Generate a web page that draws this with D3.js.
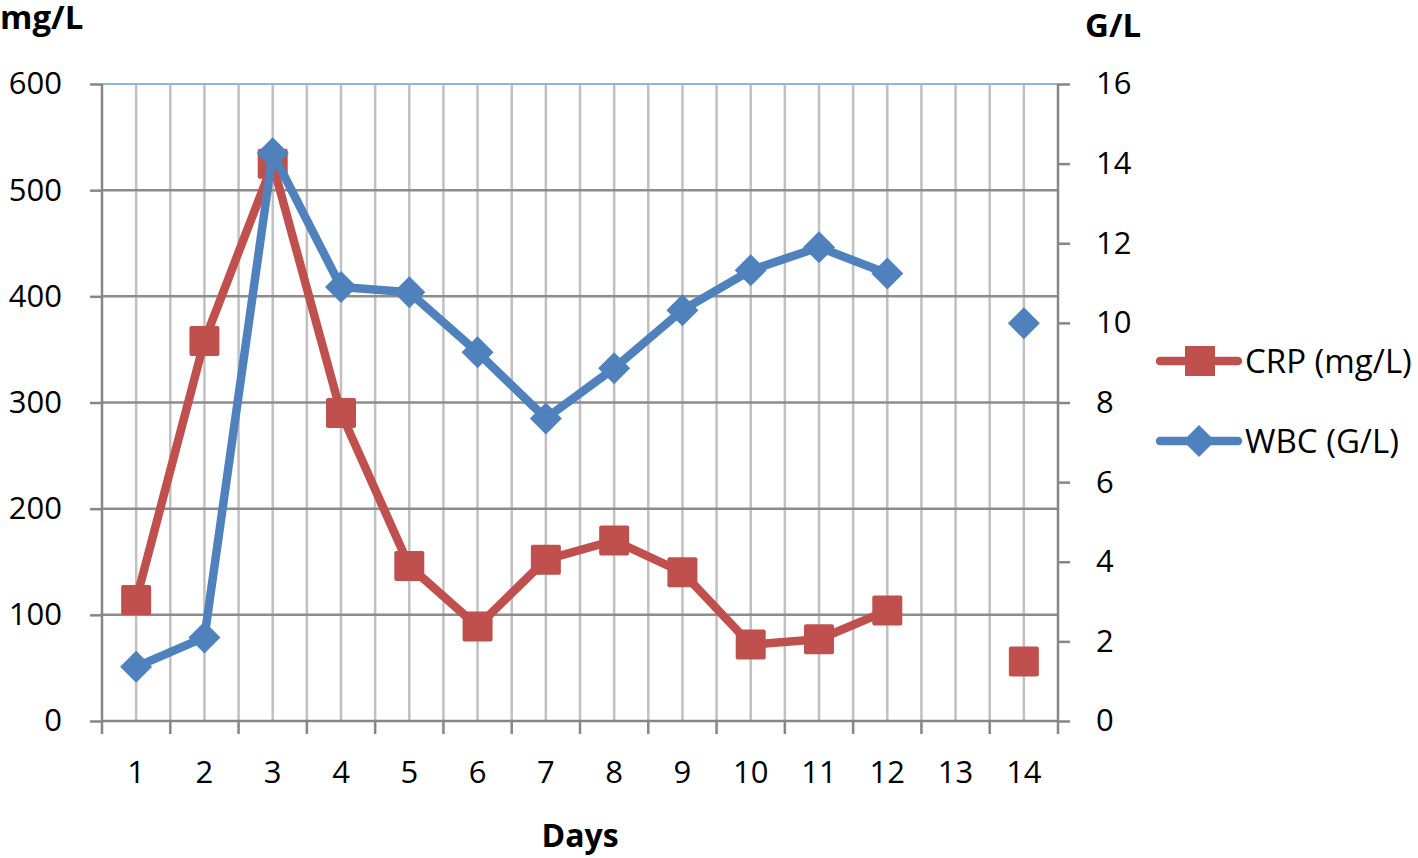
<!DOCTYPE html>
<html>
<head>
    <title>CRP and WBC</title>
    <script src="https://d3js.org/d3.v7.min.js"></script>
    <style>
        body { margin:0; background:#fff; }
        text { font-family: "Open Sans", sans-serif; fill:#000; }
        .title { font-weight:bold; }
    </style>
</head>
<body>
    <script>
    // chart data
    var days = ["1","2","3","4","5","6","7","8","9","10","11","12","13","14"];
    var crp = [114, 358, 525, 290, 146, 89, 152, 170, 140, 72, 77, 104, null, 56];
    var wbc = [1.36, 2.1, 14.26, 10.9, 10.77, 9.26, 7.6, 8.86, 10.32, 11.32, 11.9, 11.24, null, 9.99];
    var leftTicks = [0, 100, 200, 300, 400, 500, 600];
    var rightTicks = [0, 2, 4, 6, 8, 10, 12, 14, 16];

    var red = "#C0504D", blue = "#4F81BD";
    // plot edges (note: "top" is reserved on window)
    var pLeft = 102, pRight = 1058, pTop = 84, pBottom = 721;

    var svg = d3.select("body").append("svg")
                .attr("width", 1418).attr("height", 858);

    var x = d3.scaleBand().domain(days).range([pLeft, pRight]);
    var yL = d3.scaleLinear().domain([0, 600]).range([pBottom, pTop]);
    var yR = d3.scaleLinear().domain([0, 16]).range([pBottom, pTop]);
    var cx = function(i) { return x(days[i]) + x.bandwidth() / 2; };

    // vertical gridlines at band edges and centres
    var vlines = [];
    days.forEach(function(d, i) { vlines.push(x(d)); vlines.push(cx(i)); });
    vlines.push(pRight);
    svg.append("g").selectAll("line").data(vlines.slice(1, -1)).enter().append("line")
        .attr("x1", function(d) { return d; }).attr("x2", function(d) { return d; })
        .attr("y1", pTop).attr("y2", pBottom)
        .attr("stroke", "#c0c0c0").attr("stroke-width", 2.5);

    // horizontal gridlines
    svg.append("g").selectAll("line").data(leftTicks.slice(1)).enter().append("line")
        .attr("x1", pLeft).attr("x2", pRight)
        .attr("y1", function(d) { return yL(d); }).attr("y2", function(d) { return yL(d); })
        .attr("stroke", function(d) { return d == 600 ? "#8eb4e3" : "#8c8c8c"; })
        .attr("stroke-width", function(d) { return d == 600 ? 2 : 2.5; });

    // axes
    var axisColor = "#868686";
    var yAxisL = d3.axisLeft(yL).tickValues(leftTicks).tickSize(12).tickPadding(28);
    var gl = svg.append("g").attr("transform", "translate(" + pLeft + ",0)").call(yAxisL);
    var yAxisR = d3.axisRight(yR).tickValues(rightTicks).tickSize(12).tickPadding(26);
    var gr = svg.append("g").attr("transform", "translate(" + pRight + ",0)").call(yAxisR);
    var xAxis = d3.axisBottom(x).tickSize(0).tickPadding(40);
    var gx = svg.append("g").attr("transform", "translate(0," + pBottom + ")").call(xAxis);
    // category boundary ticks
    var edges = days.map(function(d) { return x(d); }).concat([pRight]);
    gx.selectAll(".edge").data(edges).enter().append("line").attr("class", "edge")
        .attr("x1", function(d) { return d; }).attr("x2", function(d) { return d; })
        .attr("y1", 0).attr("y2", 13);

    [gl, gr, gx].forEach(function(g) {
        g.selectAll("path.domain").attr("stroke", axisColor).attr("stroke-width", 2.5);
        g.selectAll("line").attr("stroke", axisColor).attr("stroke-width", 2.5);
        g.selectAll("text").style("font-size", "31px").attr("fill", "#000")
            .style("font-family", "'Open Sans', sans-serif");
    });
    gl.select("path.domain").attr("d", "M0," + pBottom + "V" + pTop);
    gr.select("path.domain").attr("d", "M0," + pBottom + "V" + pTop);
    gx.select("path.domain").attr("d", "M" + pLeft + ",0H" + pRight);

    // series lines
    function lineFor(vals, y) {
        return d3.line()
            .defined(function(d) { return d != null; })
            .x(function(d, i) { return cx(i); })
            .y(function(d) { return y(d); })(vals);
    }
    svg.append("path").attr("d", lineFor(crp, yL))
        .attr("fill", "none").attr("stroke", red).attr("stroke-width", 8.5).attr("stroke-linejoin", "round");
    svg.append("g").selectAll("rect").data(crp.map(function(v, i) { return {v: v, i: i}; })
            .filter(function(d) { return d.v != null; }))
        .enter().append("rect")
        .attr("x", function(d) { return cx(d.i) - 15; })
        .attr("y", function(d) { return yL(d.v) - 15; })
        .attr("width", 30).attr("height", 30).attr("rx", 2)
        .attr("fill", red);

    svg.append("path").attr("d", lineFor(wbc, yR))
        .attr("fill", "none").attr("stroke", blue).attr("stroke-width", 8.5).attr("stroke-linejoin", "round");
    svg.append("g").selectAll("path").data(wbc.map(function(v, i) { return {v: v, i: i}; })
            .filter(function(d) { return d.v != null; }))
        .enter().append("path")
        .attr("d", function(d) {
            var px = cx(d.i), py = yR(d.v), r = 16;
            return "M" + px + "," + (py - r) + "L" + (px + r) + "," + py + "L" + px + "," + (py + r) + "L" + (px - r) + "," + py + "Z";
        })
        .attr("fill", blue);

    // titles
    svg.append("text").attr("class", "title").attr("x", 0).attr("y", 29)
        .style("font-size", "33px").text("mg/L");
    svg.append("text").attr("class", "title").attr("x", 1085).attr("y", 37)
        .style("font-size", "33px").text("G/L");
    svg.append("text").attr("class", "title").attr("x", 580).attr("y", 847)
        .attr("text-anchor", "middle").style("font-size", "32px").text("Days");

    // legend
    var legend = [{name: "CRP (mg/L)", color: red, shape: "square", y: 361},
                  {name: "WBC (G/L)", color: blue, shape: "diamond", y: 441}];
    var lg = svg.append("g").selectAll("g").data(legend).enter().append("g");
    lg.append("line").attr("x1", 1160).attr("x2", 1238)
        .attr("y1", function(d) { return d.y; }).attr("y2", function(d) { return d.y; })
        .attr("stroke", function(d) { return d.color; }).attr("stroke-width", 8.5).attr("stroke-linecap", "round");
    lg.append("path").attr("d", function(d) {
            if (d.shape == "square") return "M1185," + (d.y - 15) + "h30v30h-30Z";
            return "M1199," + (d.y - 16) + "l16,16l-16,16l-16,-16Z";
        })
        .attr("fill", function(d) { return d.color; });
    lg.append("text").attr("x", 1245).attr("y", function(d) { return d.y + 12; })
        .style("font-size", "33px").text(function(d) { return d.name; });
    </script>
</body>
</html>
